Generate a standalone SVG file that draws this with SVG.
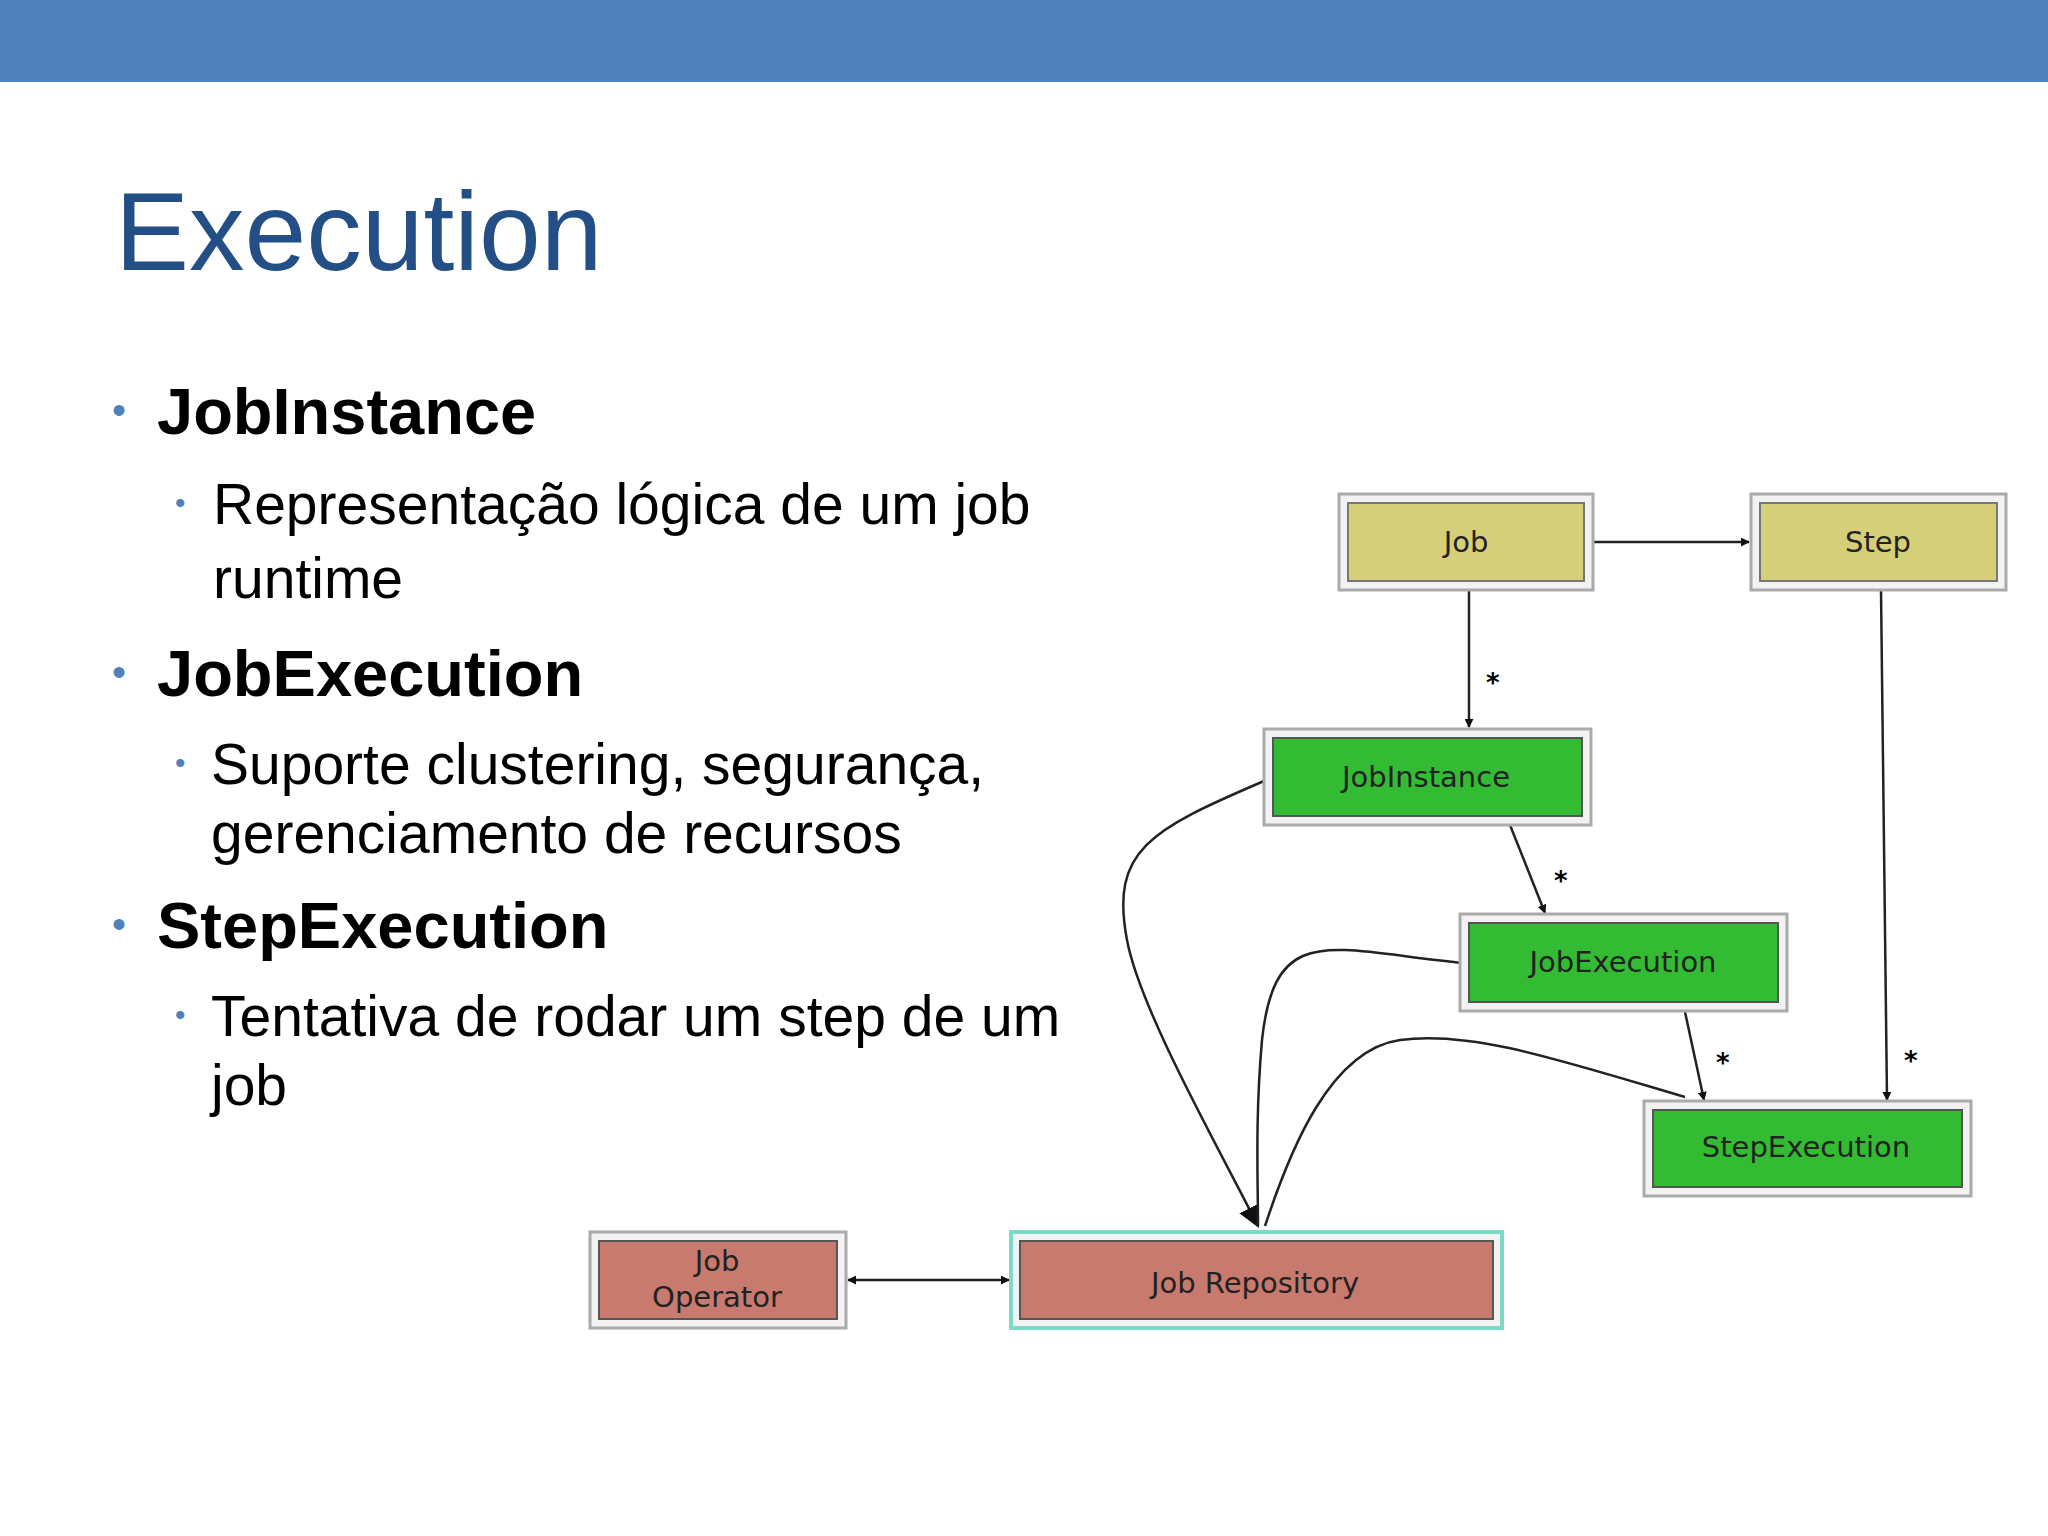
<svg xmlns="http://www.w3.org/2000/svg" width="2048" height="1536" viewBox="0 0 2048 1536">
<style>
.b{font-family:"Liberation Sans",Arial,sans-serif;fill:#000}
.dot{fill:#4F81BD;font-family:"Liberation Sans",Arial,sans-serif}
.n{font-family:"DejaVu Sans",sans-serif;font-size:29px;text-anchor:middle;fill:#222}
.o{fill:#f2f2f2;stroke:#aaa;stroke-width:3}
.c{fill:none;stroke:#222;stroke-width:2.5}
.s{font-family:"DejaVu Sans",sans-serif;font-size:26px;font-weight:bold}
</style>
<defs>
<marker id="a" viewBox="0 0 10 10" refX="9" refY="5" markerWidth="9" markerHeight="9" orient="auto-start-reverse" markerUnits="userSpaceOnUse"><path d="M0,0L10,5L0,10z" fill="#111"/></marker>
<marker id="ab" viewBox="0 0 10 10" refX="9" refY="5" markerWidth="22" markerHeight="22" orient="auto" markerUnits="userSpaceOnUse"><path d="M0,0L10,5L0,10z" fill="#111"/></marker>
</defs>
<rect x="0" y="0" width="2048" height="82" fill="#4F81BD"/>
<text x="115" y="270" font-family="Liberation Sans,Arial,sans-serif" font-size="111" fill="#234F86">Execution</text>
<g>
<text class="dot" x="112" y="424" font-size="40">•</text>
<text class="b" x="157" y="434" font-size="65" font-weight="bold">JobInstance</text>
<text class="dot" x="175" y="513" font-size="30">•</text>
<text class="b" x="213" y="524" font-size="57">Representação lógica de um job</text>
<text class="b" x="213" y="598" font-size="57">runtime</text>
<text class="dot" x="112" y="686" font-size="40">•</text>
<text class="b" x="157" y="696" font-size="65" font-weight="bold">JobExecution</text>
<text class="dot" x="175" y="773" font-size="30">•</text>
<text class="b" x="211" y="784" font-size="57">Suporte clustering, segurança,</text>
<text class="b" x="211" y="853" font-size="57">gerenciamento de recursos</text>
<text class="dot" x="112" y="938" font-size="40">•</text>
<text class="b" x="157" y="948" font-size="65" font-weight="bold">StepExecution</text>
<text class="dot" x="175" y="1025" font-size="30">•</text>
<text class="b" x="211" y="1036" font-size="57">Tentativa de rodar um step de um</text>
<text class="b" x="211" y="1105" font-size="57">job</text>
</g>
<g id="connectors">
<line class="c" x1="1593" y1="542" x2="1749" y2="542" marker-end="url(#a)"/>
<line class="c" x1="1469" y1="590" x2="1469" y2="727" marker-end="url(#a)"/>
<line class="c" x1="1508" y1="820" x2="1545" y2="913" marker-end="url(#a)"/>
<line class="c" x1="1685" y1="1012" x2="1704" y2="1100" marker-end="url(#a)"/>
<line class="c" x1="1881" y1="590" x2="1887" y2="1100" marker-end="url(#a)"/>
<path class="c" d="M1264,781 C1150,830 1110,850 1127,940 C1140,1010 1220,1150 1258,1226" marker-end="url(#ab)"/>
<path class="c" d="M1463,963 C1330,950 1275,920 1262,1040 C1255,1120 1258,1180 1258,1226"/>
<path class="c" d="M1685,1097 C1560,1060 1470,1030 1400,1040 C1330,1050 1290,1150 1265,1226"/>
<line class="c" x1="848" y1="1280" x2="1009" y2="1280" marker-start="url(#a)" marker-end="url(#a)"/>
<text class="s" x="1486" y="692">*</text>
<text class="s" x="1554" y="890">*</text>
<text class="s" x="1716" y="1072">*</text>
<text class="s" x="1904" y="1070">*</text>
</g>
<g id="job"><rect class="o" x="1339" y="494" width="254" height="96"/><rect x="1348" y="503" width="236" height="78" fill="#D6CF7A" stroke="#777" stroke-width="2"/><text class="n" x="1466" y="552">Job</text></g>
<g id="step"><rect class="o" x="1751" y="494" width="255" height="96"/><rect x="1760" y="503" width="237" height="78" fill="#D6CF7A" stroke="#777" stroke-width="2"/><text class="n" x="1878" y="552">Step</text></g>
<g id="jobinstance"><rect class="o" x="1264" y="729" width="327" height="96"/><rect x="1273" y="738" width="309" height="78" fill="#33BB33" stroke="#555" stroke-width="2"/><text class="n" x="1426" y="787">JobInstance</text></g>
<g id="jobexecution"><rect class="o" x="1460" y="914" width="327" height="97"/><rect x="1469" y="923" width="309" height="79" fill="#33BB33" stroke="#555" stroke-width="2"/><text class="n" x="1623" y="972">JobExecution</text></g>
<g id="stepexecution"><rect class="o" x="1644" y="1101" width="327" height="95"/><rect x="1653" y="1110" width="309" height="77" fill="#33BB33" stroke="#555" stroke-width="2"/><text class="n" x="1806" y="1157">StepExecution</text></g>
<g id="joboperator"><rect class="o" x="590" y="1232" width="256" height="96"/><rect x="599" y="1241" width="238" height="78" fill="#C87A6E" stroke="#555" stroke-width="2"/><text class="n" x="717" y="1271">Job</text><text class="n" x="717" y="1307">Operator</text></g>
<g id="jobrepository"><rect x="1011" y="1232" width="491" height="96" fill="#f2f2f2" stroke="#7ED9C6" stroke-width="4"/><rect x="1020" y="1241" width="473" height="78" fill="#C87A6E" stroke="#555" stroke-width="2"/><text class="n" x="1255" y="1293" font-size="40">Job Repository</text></g>
</svg>
